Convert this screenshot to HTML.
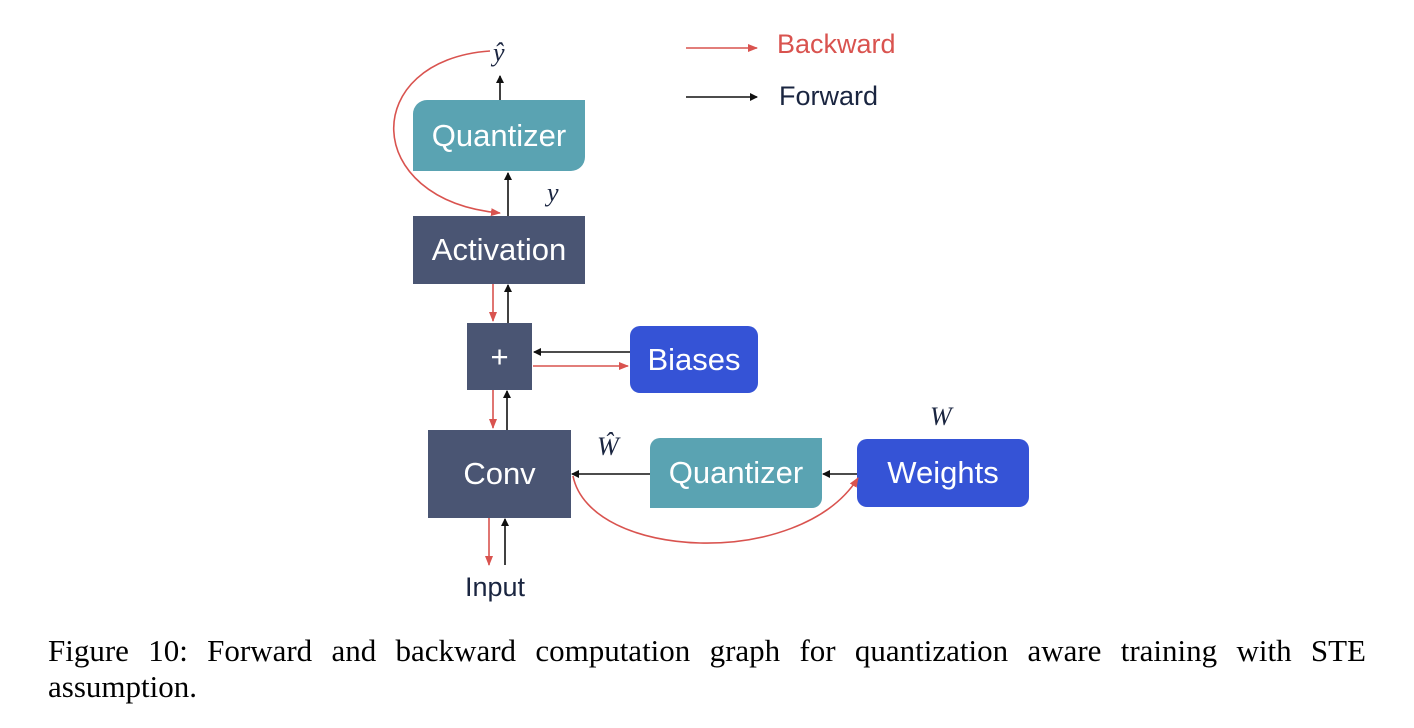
<!DOCTYPE html>
<html><head><style>
body{margin:0;width:1414px;height:728px;background:#fff;position:relative;overflow:hidden;font-family:"Liberation Sans",sans-serif}
.b{position:absolute;color:#fff;display:flex;align-items:center;justify-content:center;font-size:31px}
.cap{position:absolute;left:48px;width:1318px;font-family:"Liberation Serif",serif;font-size:31px;line-height:36px;color:#000;white-space:nowrap}
.j{text-align:justify;text-align-last:justify;white-space:normal}
.m{position:absolute;font-family:"Liberation Serif",serif;font-style:italic;font-size:26px;color:#1a2540}
</style></head><body>
<div class="b" style="left:413px;top:100px;width:172px;height:71px;background:#5aa3b2;border-radius:14px 0 14px 0">Quantizer</div>
<div class="b" style="left:413px;top:216px;width:172px;height:68px;background:#4a5573">Activation</div>
<div class="b" style="left:467px;top:323px;width:65px;height:67px;background:#4a5573">+</div>
<div class="b" style="left:630px;top:326px;width:128px;height:67px;background:#3553d6;border-radius:10px">Biases</div>
<div class="b" style="left:428px;top:430px;width:143px;height:88px;background:#4a5573">Conv</div>
<div class="b" style="left:650px;top:438px;width:172px;height:70px;background:#5aa3b2;border-radius:10px 0 10px 0">Quantizer</div>
<div class="b" style="left:857px;top:439px;width:172px;height:68px;background:#3553d6;border-radius:10px">Weights</div>
<div class="m" style="left:493px;top:38px">ŷ</div>
<div class="m" style="left:547px;top:178px">y</div>
<div class="m" style="left:597px;top:432px">Ŵ</div>
<div class="m" style="left:930px;top:402px">W</div>
<div style="position:absolute;left:465px;top:572px;font-size:27px;color:#1a2540">Input</div>
<div style="position:absolute;left:777px;top:29px;font-size:27px;color:#d9534f">Backward</div>
<div style="position:absolute;left:779px;top:81px;font-size:27px;color:#1a2540">Forward</div>
<svg width="1414" height="728" style="position:absolute;left:0;top:0">
<defs>
<marker id="k" markerWidth="8" markerHeight="8" refX="7" refY="4" orient="auto" markerUnits="userSpaceOnUse"><path d="M0,0L8,4L0,8z" fill="#111"/></marker>
<marker id="r" markerWidth="10" markerHeight="8" refX="9" refY="4" orient="auto" markerUnits="userSpaceOnUse"><path d="M0,0L10,4L0,8z" fill="#d9534f"/></marker>
</defs>
<g stroke="#111" stroke-width="1.6" fill="none">
<line x1="686" y1="97" x2="757" y2="97" marker-end="url(#k)"/>
<line x1="500" y1="100" x2="500" y2="76" marker-end="url(#k)"/>
<line x1="508" y1="216" x2="508" y2="173" marker-end="url(#k)"/>
<line x1="508" y1="323" x2="508" y2="285" marker-end="url(#k)"/>
<line x1="630" y1="352" x2="534" y2="352" marker-end="url(#k)"/>
<line x1="507" y1="430" x2="507" y2="391" marker-end="url(#k)"/>
<line x1="505" y1="565" x2="505" y2="519" marker-end="url(#k)"/>
<line x1="650" y1="474" x2="572" y2="474" marker-end="url(#k)"/>
<line x1="857" y1="474" x2="823" y2="474" marker-end="url(#k)"/>
</g>
<g stroke="#d9534f" stroke-width="1.6" fill="none">
<line x1="686" y1="48" x2="757" y2="48" marker-end="url(#r)"/>
<path d="M490,51 C360,60 360,200 500,213" marker-end="url(#r)"/>
<line x1="493" y1="284" x2="493" y2="321" marker-end="url(#r)"/>
<line x1="533" y1="366" x2="628" y2="366" marker-end="url(#r)"/>
<line x1="493" y1="390" x2="493" y2="428" marker-end="url(#r)"/>
<line x1="489" y1="518" x2="489" y2="565" marker-end="url(#r)"/>
<path d="M573,476 C590,560 800,570 858,478" marker-end="url(#r)"/>
</g>
</svg>
<div class="cap j" style="top:633px">Figure 10: Forward and backward computation graph for quantization aware training with STE</div>
<div class="cap" style="top:669px">assumption.</div>
</body></html>
